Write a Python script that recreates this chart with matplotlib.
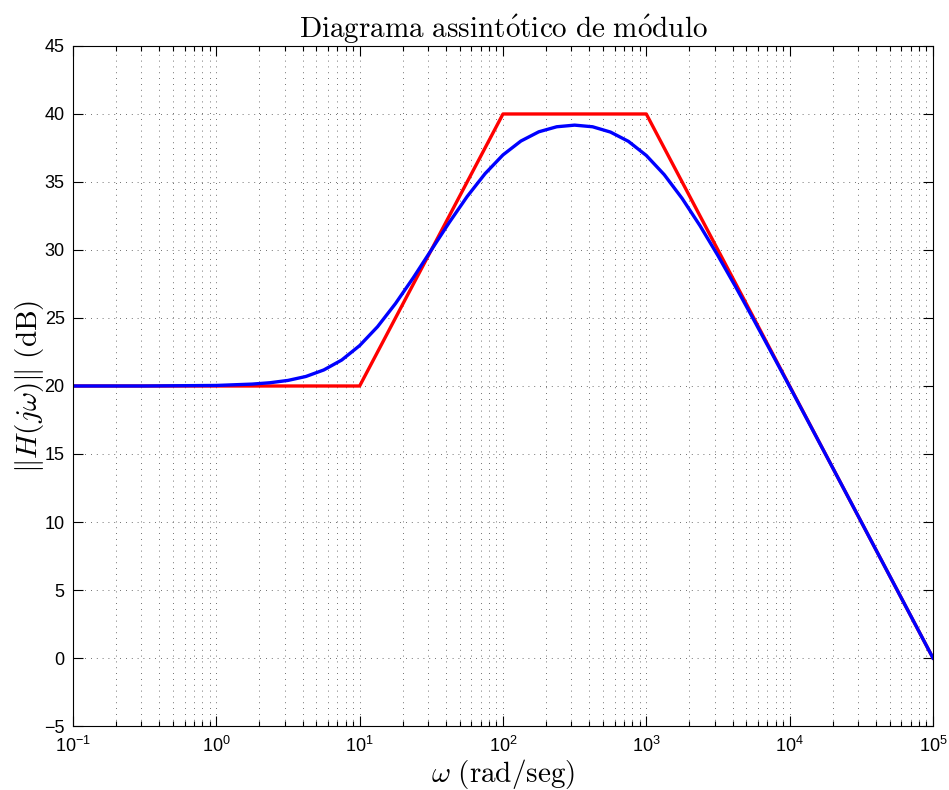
import numpy as np
import matplotlib
matplotlib.use("Agg")
import matplotlib.pyplot as plt
from matplotlib.ticker import LogLocator

plt.rcParams['font.family'] = ['Liberation Sans', 'DejaVu Sans']
plt.rcParams['mathtext.fontset'] = 'cm'

# asymptotic (straight-line) approximation
asym_w = [1e-1, 1e1, 1e2, 1e3, 1e5]
asym_db = [20, 20, 40, 40, 0]

log_w = [-1.0, -0.5, 0.0, 0.25, 0.375, 0.5, 0.625, 0.75, 0.875, 1.0,
         1.125, 1.25, 1.375, 1.5, 1.625, 1.75, 1.875, 2.0, 2.125, 2.25,
         2.375, 2.5, 2.625, 2.75, 2.875, 3.0, 3.125, 3.25, 3.375, 3.5,
         3.625, 3.75, 3.875, 4.0, 4.25, 4.5, 4.75, 5.0]
mag_db = [20.00, 20.00, 20.04, 20.14, 20.24, 20.41, 20.70, 21.18, 21.91, 22.97,
          24.36, 26.06, 27.97, 30.00, 32.02, 33.93, 35.61, 36.99, 38.01, 38.69,
          39.06, 39.18, 39.06, 38.67, 37.99, 36.95, 35.54, 33.79, 31.78, 29.58,
          27.26, 24.86, 22.42, 19.96, 14.99, 10.00, 5.00, 0.00]

omega = 10.0 ** np.array(log_w)

fig = plt.figure(figsize=(9.49, 7.9), dpi=100)
ax = fig.add_axes([0.0769, 0.081, 0.9062, 0.8608])

ax.semilogx(asym_w, asym_db, color='red', linewidth=2.4)
ax.semilogx(omega, mag_db, color='blue', linewidth=2.4)

ax.set_xlim(1e-1, 1e5)
ax.set_ylim(-5, 45)
ax.set_yticks(np.arange(-5, 46, 5))
ax.xaxis.set_major_locator(LogLocator(base=10, numticks=10))
ax.xaxis.set_minor_locator(LogLocator(base=10, subs=np.arange(2, 10), numticks=100))

# sparse MATLAB-like dotted grid
dots = (0, (1, 6))
ax.grid(which='major', linestyle=dots, color='0.25', linewidth=0.6)
ax.grid(which='minor', axis='x', linestyle=dots, color='0.25', linewidth=0.6)

ax.tick_params(which='both', direction='in', top=True, right=True, labelsize=13, width=0.8)
ax.tick_params(which='major', length=7)
ax.tick_params(which='minor', length=3.5)
ax.tick_params(axis='x', which='major', pad=7)
ax.tick_params(axis='y', which='major', pad=6)
for s in ax.spines.values():
    s.set_linewidth(0.8)

ax.set_title(r'$\mathrm{Diagrama\ assint\acute{o}tico\ de\ m\acute{o}dulo}$', fontsize=21, pad=6)
ax.set_xlabel(r'$\omega\ \mathrm{(rad/seg)}$', fontsize=21, labelpad=1)
ax.set_ylabel(r'$\|H(j\omega)\|\ \mathrm{(dB)}$', fontsize=21, labelpad=-1)

fig.savefig('out.png', dpi=100)
